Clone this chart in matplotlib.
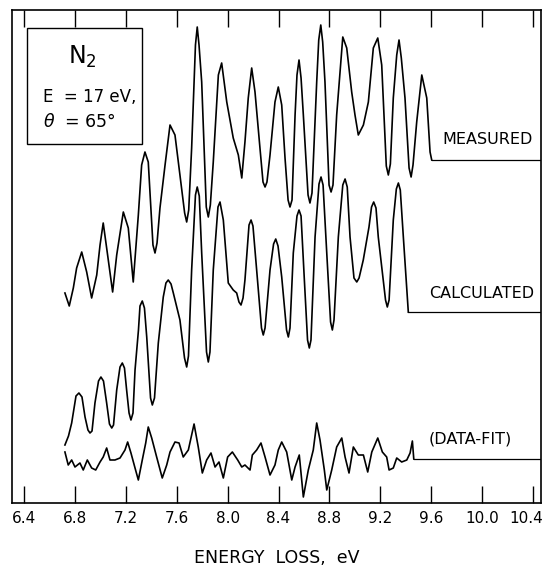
import matplotlib
matplotlib.use("Agg")
import matplotlib.pyplot as plt
from matplotlib.patches import Rectangle
from matplotlib.transforms import ScaledTranslation

# ---------------- data (energy loss in eV, intensity in arbitrary units) -------------
measured_e = [6.721, 6.755, 6.787, 6.813, 6.853, 6.892, 6.931, 6.971, 6.997, 7.022,
              7.049, 7.096, 7.128, 7.180, 7.219, 7.258, 7.298, 7.324, 7.350, 7.376,
              7.413, 7.429, 7.445, 7.468, 7.508, 7.547, 7.586, 7.625, 7.662, 7.678,
              7.694, 7.717, 7.747, 7.761, 7.775, 7.796, 7.832, 7.848, 7.864, 7.887,
              7.927, 7.953, 7.993, 8.044, 8.084, 8.111, 8.136, 8.162, 8.189, 8.215,
              8.254, 8.278, 8.294, 8.309, 8.333, 8.372, 8.398, 8.425, 8.451, 8.475,
              8.490, 8.506, 8.530, 8.545, 8.561, 8.577, 8.595, 8.632, 8.647, 8.663,
              8.700, 8.716, 8.732, 8.747, 8.765, 8.797, 8.813, 8.828, 8.857, 8.905,
              8.936, 8.975, 9.001, 9.027, 9.067, 9.106, 9.145, 9.180, 9.211, 9.247,
              9.263, 9.279, 9.302, 9.329, 9.347, 9.365, 9.394, 9.426, 9.442, 9.457,
              9.486, 9.526, 9.565, 9.591, 9.604]
measured_i = [210, 197, 215, 235, 251, 231, 205, 228, 258, 280,
              255, 211, 248, 291, 275, 221, 288, 338, 351, 341,
              258, 250, 260, 295, 338, 378, 368, 328, 290, 281,
              293, 355, 458, 476, 458, 421, 296, 286, 298, 341,
              428, 440, 401, 365, 348, 325, 361, 405, 435, 411,
              355, 321, 316, 321, 348, 401, 416, 398, 345, 303,
              296, 303, 388, 428, 443, 425, 388, 308, 300, 310,
              421, 463, 478, 461, 421, 318, 311, 318, 388, 466,
              455, 411, 388, 368, 378, 401, 455, 465, 438, 337,
              328, 339, 405, 448, 463, 445, 405, 335, 326, 338,
              381, 428, 405, 351, 343]

calc_e = [6.721, 6.749, 6.774, 6.808, 6.831, 6.855, 6.879, 6.902, 6.918, 6.934,
          6.957, 6.985, 7.004, 7.024, 7.049, 7.071, 7.089, 7.103, 7.128, 7.154,
          7.172, 7.189, 7.206, 7.225, 7.240, 7.256, 7.272, 7.299, 7.311, 7.329,
          7.346, 7.364, 7.394, 7.408, 7.425, 7.455, 7.494, 7.515, 7.533, 7.555,
          7.573, 7.625, 7.661, 7.678, 7.692, 7.717, 7.747, 7.761, 7.777, 7.796,
          7.834, 7.848, 7.861, 7.887, 7.924, 7.940, 7.966, 8.005, 8.044, 8.071,
          8.089, 8.105, 8.121, 8.136, 8.168, 8.184, 8.199, 8.228, 8.266, 8.280,
          8.294, 8.333, 8.361, 8.378, 8.396, 8.425, 8.463, 8.477, 8.490, 8.516,
          8.545, 8.561, 8.577, 8.603, 8.628, 8.642, 8.655, 8.687, 8.718, 8.734,
          8.750, 8.779, 8.809, 8.823, 8.836, 8.870, 8.905, 8.923, 8.940, 8.962,
          8.993, 9.015, 9.033, 9.066, 9.111, 9.131, 9.148, 9.166, 9.184, 9.241,
          9.255, 9.269, 9.302, 9.326, 9.342, 9.357, 9.381, 9.420]
calc_i = [58, 67, 80, 107, 110, 106, 86, 73, 70, 72,
          100, 122, 126, 122, 100, 79, 75, 78, 113, 136,
          140, 135, 113, 90, 83, 90, 133, 173, 197, 202,
          195, 166, 105, 98, 105, 160, 206, 220, 223, 219,
          210, 183, 145, 136, 147, 233, 308, 316, 307, 250,
          151, 141, 151, 233, 296, 301, 283, 220, 213, 210,
          201, 198, 205, 223, 278, 283, 277, 233, 175, 168,
          175, 233, 259, 264, 257, 226, 173, 166, 175, 250,
          287, 293, 287, 223, 163, 155, 163, 266, 319, 326,
          318, 250, 181, 173, 183, 266, 318, 324, 316, 266,
          225, 221, 225, 243, 276, 296, 301, 295, 266, 203,
          196, 203, 283, 314, 320, 313, 266, 191]

diff_e = [6.721, 6.747, 6.774, 6.800, 6.839, 6.865, 6.897, 6.931, 6.963, 6.997,
          7.022, 7.049, 7.075, 7.114, 7.154, 7.193, 7.214, 7.240, 7.272, 7.298,
          7.329, 7.356, 7.376, 7.403, 7.442, 7.486, 7.521, 7.547, 7.586, 7.618,
          7.651, 7.691, 7.736, 7.769, 7.801, 7.835, 7.869, 7.901, 7.932, 7.966,
          8.000, 8.037, 8.079, 8.111, 8.136, 8.176, 8.194, 8.228, 8.262, 8.294,
          8.333, 8.372, 8.398, 8.425, 8.464, 8.504, 8.530, 8.563, 8.595, 8.634,
          8.673, 8.700, 8.726, 8.760, 8.779, 8.818, 8.857, 8.897, 8.923, 8.954,
          8.988, 9.027, 9.067, 9.101, 9.133, 9.180, 9.216, 9.250, 9.269, 9.302,
          9.329, 9.368, 9.408, 9.434, 9.452, 9.463]
diff_i = [51, 38, 43, 36, 40, 33, 43, 35, 33, 41,
          46, 55, 43, 43, 45, 53, 61, 50, 35, 23,
          43, 60, 76, 65, 46, 25, 38, 51, 61, 60,
          46, 53, 79, 56, 30, 43, 50, 36, 41, 25,
          46, 51, 43, 36, 38, 33, 48, 53, 60, 46,
          28, 38, 53, 61, 51, 23, 36, 48, 6, 33,
          53, 80, 63, 33, 13, 33, 56, 65, 46, 30,
          56, 48, 48, 31, 51, 65, 51, 46, 33, 35,
          45, 41, 43, 50, 62, 44]

series_labels = ["MEASURED", "CALCULATED", "(DATA-FIT)"]
label_pos_e = [9.685, 9.583, 9.583]
label_pos_i = [363, 209.5, 63.5]

xticks = [6.4, 6.8, 7.2, 7.6, 8.0, 8.4, 8.8, 9.2, 9.6, 10.0, 10.4]
xtick_labels = ["6.4", "6.8", "7.2", "7.6", "8.0", "8.4", "8.8", "9.2", "9.6", "10.0", "10.4"]

# ---------------- figure ----------------
fig = plt.figure(figsize=(5.44, 5.67), dpi=100)
ax = fig.add_axes([12 / 544, 64 / 567, 529 / 544, 493 / 567])
xmin, xmax = 6.305, 10.463
ax.set_xlim(xmin, xmax)
ax.set_ylim(0, 493)

lw = 1.2
for e, i in [(measured_e, measured_i), (calc_e, calc_i), (diff_e, diff_i)]:
    ax.plot(e, i, color="black", lw=lw, solid_joinstyle="round")
    ax.plot([e[-1], xmax], [i[-1], i[-1]], color="black", lw=0.9)

for lab, xe, yi in zip(series_labels, label_pos_e, label_pos_i):
    ax.text(xe, yi, lab, fontsize=11.5, ha="left", va="center", color="black")

# inset box
ax.add_patch(Rectangle((0.0284, 0.728), 0.2174, 0.2353, transform=ax.transAxes,
                       fill=False, lw=1.0, ec="black"))
ax.text(0.134, 0.905, "N$_2$", transform=ax.transAxes, fontsize=17, ha="center", va="center")
ax.text(0.0586, 0.8235, "E  = 17 eV,", transform=ax.transAxes, fontsize=12, ha="left", va="center")
ax.text(0.0586, 0.7728, r"$\theta$  = 65°", transform=ax.transAxes, fontsize=12.5, ha="left", va="center")

ax.set_xticks(xticks)
ax.set_xticklabels(xtick_labels)
ax.set_yticks([])
ax.tick_params(axis="x", direction="in", length=12, width=1.0, top=True, labeltop=False,
               labelsize=11, pad=6)
last = ax.get_xticklabels()[-1]
last.set_transform(last.get_transform() + ScaledTranslation(-5 / 72, 0, fig.dpi_scale_trans))
for s in ax.spines.values():
    s.set_linewidth(1.2)
ax.set_xlabel("ENERGY  LOSS,  eV", fontsize=12.5, labelpad=16)

fig.savefig("out.png", dpi=100)
